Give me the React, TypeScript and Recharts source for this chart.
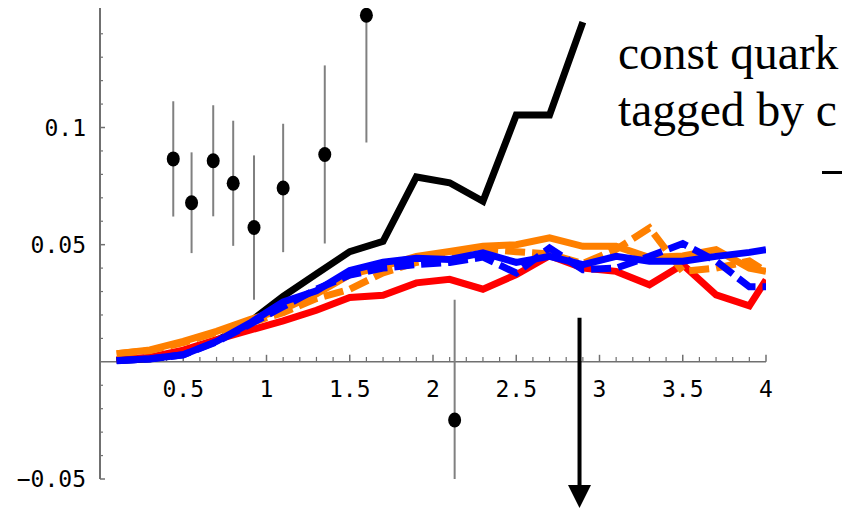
import { ComposedChart, ErrorBar, Line, ReferenceLine, Scatter, XAxis, YAxis } from "recharts";

// momentum bins (bin centres, last point at the edge)
const xs = [0.1, 0.3, 0.5, 0.7, 0.9, 1.1, 1.3, 1.5, 1.7, 1.9, 2.1, 2.3, 2.5, 2.7, 2.9, 3.1, 3.3, 3.5, 3.7, 3.9, 4.0];

const blackCurve = [0.0006, 0.0013, 0.0035, 0.009, 0.017, 0.028, 0.0375, 0.047, 0.0514, 0.0789, 0.0764, 0.0685, 0.1053, 0.1053, 0.145, null, null, null, null, null, null];
const redCurve = [0.001, 0.002, 0.005, 0.0095, 0.0135, 0.0175, 0.022, 0.0275, 0.0284, 0.0337, 0.0352, 0.031, 0.0372, 0.0453, 0.04, 0.0386, 0.0329, 0.0415, 0.0286, 0.0239, 0.035];
const orangeSolid = [0.0035, 0.0051, 0.0087, 0.013, 0.018, 0.0225, 0.029, 0.0372, 0.0407, 0.045, 0.0471, 0.0493, 0.05, 0.0529, 0.0493, 0.0493, 0.0445, 0.0452, 0.0479, 0.04, 0.0386];
const orangeDashed = [0.0035, 0.0048, 0.0082, 0.0125, 0.0165, 0.021, 0.027, 0.031, 0.038, 0.0424, 0.0447, 0.0482, 0.047, 0.046, 0.042, 0.048, 0.0571, 0.0386, 0.04, 0.043, 0.0386];
const blueSolid = [0.0006, 0.0013, 0.003, 0.0087, 0.0165, 0.0256, 0.0303, 0.039, 0.0425, 0.0442, 0.0437, 0.0465, 0.0424, 0.045, 0.0415, 0.045, 0.0429, 0.0429, 0.045, 0.0467, 0.0479];
const blueDashed = [0.0005, 0.0012, 0.003, 0.0085, 0.016, 0.0235, 0.031, 0.037, 0.04, 0.0415, 0.0424, 0.0447, 0.0379, 0.0486, 0.0393, 0.04, 0.045, 0.0505, 0.043, 0.032, 0.032];

// measured points with symmetric errors
const pointX = [0.44, 0.55, 0.68, 0.8, 0.925, 1.1, 1.35, 1.6, 2.13];
const pointY = [0.0866, 0.0679, 0.0858, 0.0762, 0.0573, 0.0742, 0.0885, 0.1479, -0.0248];
const pointErr = [0.0246, 0.0215, 0.0237, 0.0267, 0.0308, 0.0274, 0.038, 0.0543, 0.0513];

const xLabelTicks = [0.5, 1, 1.5, 2, 2.5, 3, 3.5, 4];
const yLabelTicks = [-0.05, 0.05, 0.1];
const yDomain: [number, number] = [-0.05, 0.151];

// arrow marker: x position, top, tip
const arrowX = 2.88;
const arrowTop = 0.0188;
const arrowTip = -0.0624;

const rows = xs.map((x, i) => ({
  x,
  black: blackCurve[i],
  red: redCurve[i],
  orange: orangeSolid[i],
  orangeDash: orangeDashed[i],
  blue: blueSolid[i],
  blueDash: blueDashed[i],
}));

// error bars stop at the frame, so each one gets a [below, above] pair
const points = pointX.map((x, i) => {
  const y = pointY[i];
  const e = pointErr[i];
  return { x, y, err: [Math.min(e, y - yDomain[0]), Math.min(e, yDomain[1] - y)] };
});

const xMinor: number[] = [];
for (let i = 1; i <= 40; i++) if (i % 5 !== 0) xMinor.push(i / 10);
const yMinor: number[] = [];
for (let i = -5; i <= 15; i++) if (i % 5 !== 0) yMinor.push(i / 100);

const AXIS = "#707070";
const MONO = "DejaVu Sans Mono";
const ORANGE = "#ff8000";
const DASH = "20 7";

const fmtY = (v: number) => (v < 0 ? "\u2212" + String(-v) : String(v));

function Arrow(props: any) {
  const { x1, y1, x2, y2 } = props;
  const head = 23;
  const bottom = Math.max(y1, y2);
  return (
    <g>
      <line x1={x1} y1={Math.min(y1, y2)} x2={x2} y2={bottom - head + 2} stroke="#000" strokeWidth={4} />
      <polygon points={`${x2 - 11.5},${bottom - head} ${x2 + 11.5},${bottom - head} ${x2},${bottom}`} fill="#000" />
    </g>
  );
}

function Dot(props: any) {
  return <ellipse cx={props.cx} cy={props.cy} rx={6.5} ry={7.5} fill="#000" />;
}

export default function App() {
  return (
    <div style={{ position: "fixed", left: 0, top: 0, width: 842, height: 510, background: "#fff", overflow: "hidden" }}>
      <ComposedChart width={842} height={510} data={rows} margin={{ top: 8, right: 76, bottom: 31, left: 0 }}>
        <XAxis type="number" dataKey="x" domain={[0, 4]} hide allowDataOverflow />
        <YAxis
          type="number"
          domain={yDomain}
          allowDataOverflow
          width={100}
          ticks={yLabelTicks}
          tickFormatter={fmtY}
          tickLine={false}
          tickSize={0}
          tickMargin={14}
          axisLine={{ stroke: AXIS, strokeWidth: 2 }}
          tick={{ fill: "#000", fontSize: 23, fontFamily: MONO }}
        />

        {/* x axis through the origin */}
        <ReferenceLine y={0} stroke={AXIS} strokeWidth={1.5} />
        {xMinor.map((v) => (
          <ReferenceLine key={"xm" + v} segment={[{ x: v, y: 0 }, { x: v, y: 0.0021 }]} stroke={AXIS} strokeWidth={1.2} />
        ))}
        {xLabelTicks.map((v) => (
          <ReferenceLine
            key={"xl" + v}
            segment={[{ x: v, y: 0 }, { x: v, y: 0.003 }]}
            stroke={AXIS}
            strokeWidth={1.5}
            label={{ value: String(v), position: "bottom", offset: 19, fill: "#000", fontSize: 23, fontFamily: MONO }}
          />
        ))}
        {yMinor.map((v) => (
          <ReferenceLine key={"ym" + v} segment={[{ x: 0, y: v }, { x: 0.018, y: v }]} stroke={AXIS} strokeWidth={1.2} />
        ))}
        {yLabelTicks.map((v) => (
          <ReferenceLine key={"yl" + v} segment={[{ x: 0, y: v }, { x: 0.03, y: v }]} stroke={AXIS} strokeWidth={1.5} />
        ))}

        <Scatter data={points} dataKey="y" shape={<Dot />} isAnimationActive={false}>
          <ErrorBar dataKey="err" direction="y" width={0} stroke="#808080" strokeWidth={2} isAnimationActive={false} />
        </Scatter>

        <Line dataKey="black" stroke="#000" strokeWidth={7} dot={false} isAnimationActive={false} />
        <Line dataKey="red" stroke="#ff0000" strokeWidth={7} dot={false} isAnimationActive={false} />
        <Line dataKey="orange" stroke={ORANGE} strokeWidth={7} dot={false} isAnimationActive={false} />
        <Line dataKey="orangeDash" stroke={ORANGE} strokeWidth={7} strokeDasharray={DASH} dot={false} isAnimationActive={false} />
        <Line dataKey="blue" stroke="#0000ff" strokeWidth={7} dot={false} isAnimationActive={false} />
        <Line dataKey="blueDash" stroke="#0000ff" strokeWidth={7} strokeDasharray={DASH} dot={false} isAnimationActive={false} />

        <ReferenceLine
          segment={[{ x: arrowX, y: arrowTop }, { x: arrowX, y: arrowTip }]}
          ifOverflow="visible"
          shape={<Arrow />}
        />
      </ComposedChart>

      <div
        style={{
          position: "absolute",
          left: 618,
          top: 25,
          fontFamily: "Liberation Serif",
          fontSize: 47.5,
          lineHeight: "57px",
          whiteSpace: "nowrap",
          color: "#000",
        }}
      >
        <div>const quark</div>
        <div>tagged by c</div>
      </div>
      <div style={{ position: "absolute", left: 822, top: 171, width: 20, height: 3, background: "#000" }} />
    </div>
  );
}
